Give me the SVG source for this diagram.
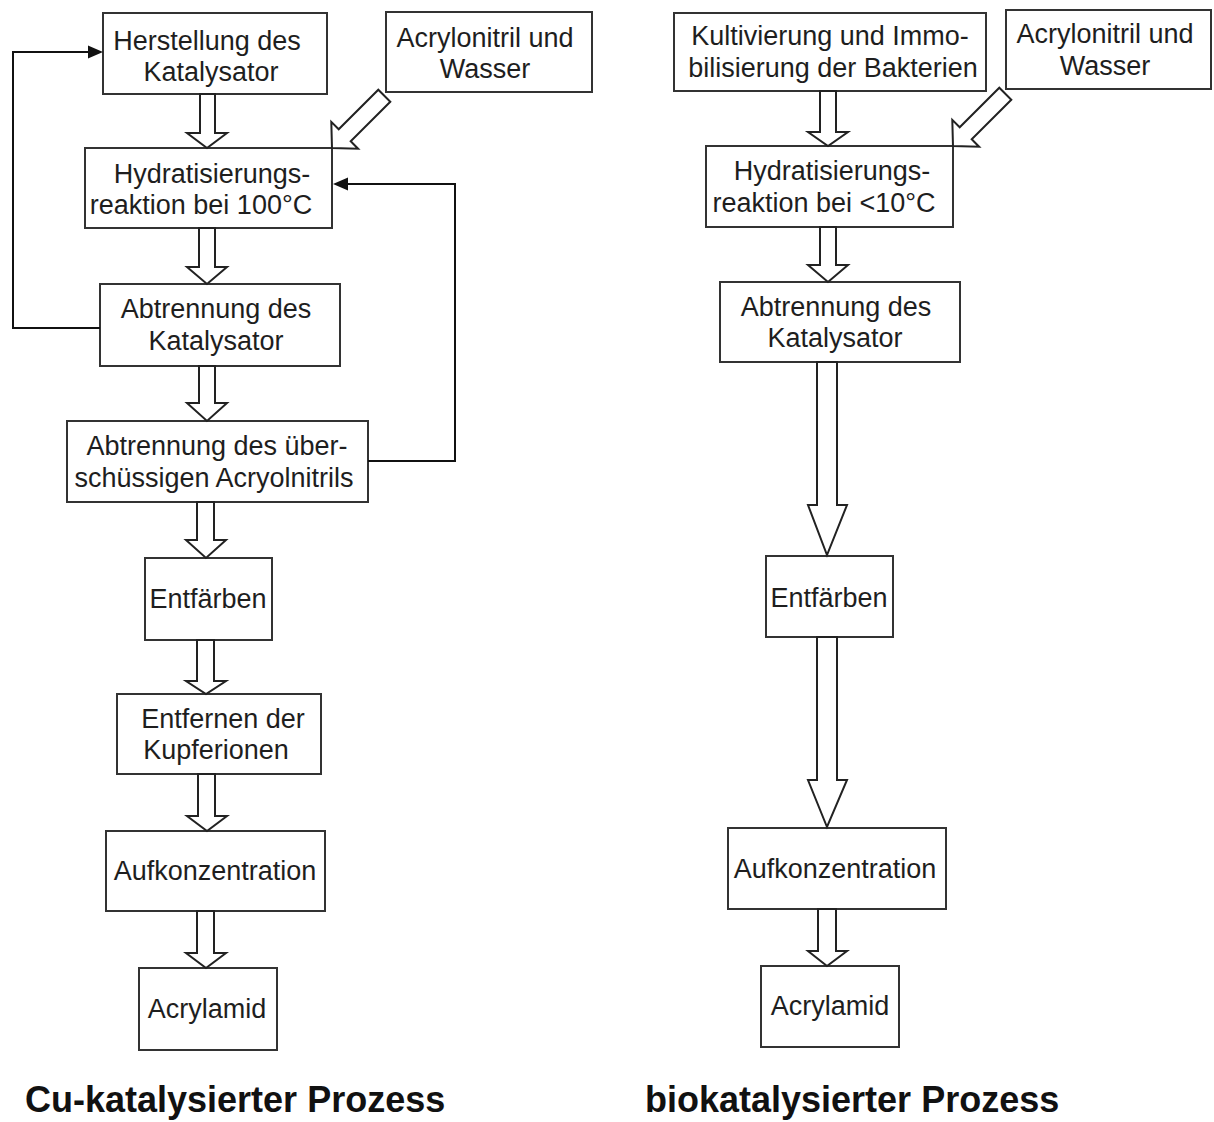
<svg xmlns="http://www.w3.org/2000/svg" width="1214" height="1122" viewBox="0 0 1214 1122">
<style>
.box{fill:#fff;stroke:#333;stroke-width:2}
.t{font-family:"Liberation Sans",Arial,sans-serif;font-size:27px;fill:#1e1e1e;text-anchor:middle}
.title{font-family:"Liberation Sans",Arial,sans-serif;font-size:36px;font-weight:bold;fill:#111}
.ha{fill:#fff;stroke:#222;stroke-width:2;stroke-linejoin:miter}
.fb{fill:none;stroke:#111;stroke-width:2}
.ah{fill:#111}
</style>
<rect width="1214" height="1122" fill="#fff"/>
<g id="n1"><rect class="box" x="103" y="13" width="224" height="81"/><text class="t" x="207" y="50">Herstellung des</text><text class="t" x="211" y="81">Katalysator</text></g>
<g id="n2"><rect class="box" x="386" y="12" width="206" height="80"/><text class="t" x="485" y="47">Acrylonitril und</text><text class="t" x="485" y="78">Wasser</text></g>
<g id="n3"><rect class="box" x="85" y="148" width="247" height="80"/><text class="t" x="212" y="183">Hydratisierungs-</text><text class="t" x="201" y="214">reaktion bei 100°C</text></g>
<g id="n4"><rect class="box" x="100" y="284" width="240" height="82"/><text class="t" x="216" y="318">Abtrennung des</text><text class="t" x="216" y="350">Katalysator</text></g>
<g id="n5"><rect class="box" x="67" y="421" width="301" height="81"/><text class="t" x="217" y="455">Abtrennung des über-</text><text class="t" x="214" y="487">schüssigen Acryolnitrils</text></g>
<g id="n6"><rect class="box" x="145" y="558" width="127" height="82"/><text class="t" x="208" y="608">Entfärben</text></g>
<g id="n7"><rect class="box" x="117" y="694" width="204" height="80"/><text class="t" x="223" y="728">Entfernen der</text><text class="t" x="216" y="759">Kupferionen</text></g>
<g id="n8"><rect class="box" x="106" y="831" width="219" height="80"/><text class="t" x="215" y="880">Aufkonzentration</text></g>
<g id="n9"><rect class="box" x="139" y="968" width="138" height="82"/><text class="t" x="207" y="1018">Acrylamid</text></g>
<g id="m1"><rect class="box" x="674" y="13" width="312" height="78"/><text class="t" x="830" y="45">Kultivierung und Immo-</text><text class="t" x="833" y="77">bilisierung der Bakterien</text></g>
<g id="m2"><rect class="box" x="1006" y="10" width="205" height="79"/><text class="t" x="1105" y="43">Acrylonitril und</text><text class="t" x="1105" y="75">Wasser</text></g>
<g id="m3"><rect class="box" x="706" y="146" width="247" height="81"/><text class="t" x="832" y="180">Hydratisierungs-</text><text class="t" x="824" y="212">reaktion bei &lt;10°C</text></g>
<g id="m4"><rect class="box" x="720" y="282" width="240" height="80"/><text class="t" x="836" y="316">Abtrennung des</text><text class="t" x="835" y="347">Katalysator</text></g>
<g id="m5"><rect class="box" x="766" y="556" width="127" height="81"/><text class="t" x="829" y="607">Entfärben</text></g>
<g id="m6"><rect class="box" x="728" y="828" width="218" height="81"/><text class="t" x="835" y="878">Aufkonzentration</text></g>
<g id="m7"><rect class="box" x="761" y="966" width="138" height="81"/><text class="t" x="830" y="1015">Acrylamid</text></g>
<g id="connectors">
<path class="ha" d="M200,94 V133 H187 L207,148 L227,133 H215 V94 Z"/>
<path class="ha" d="M199,228 V267 H187 L207,284 L227,267 H215 V228 Z"/>
<path class="ha" d="M199,366 V403 H187 L207,421 L227,403 H215 V366 Z"/>
<path class="ha" d="M197,502 V540 H186 L206,558 L226,540 H214 V502 Z"/>
<path class="ha" d="M197,640 V681 H186 L206,694 L226,681 H214 V640 Z"/>
<path class="ha" d="M198,774 V816 H187 L207,831 L227,816 H215 V774 Z"/>
<path class="ha" d="M197,911 V953 H186 L206,968 L226,953 H214 V911 Z"/>
<path class="ha" d="M390.3,101.7 L350.7,141.3 L358.1,148.7 L332,148 L331.3,121.9 L338.7,129.3 L378.3,89.7 Z"/>
<path class="ha" d="M820,91 V132 H808 L828,146 L848,132 H836 V91 Z"/>
<path class="ha" d="M820,227 V265 H808 L828,282 L848,265 H836 V227 Z"/>
<path class="ha" d="M817,362 V505 H808 L827,555 L847,505 H837 V362 Z"/>
<path class="ha" d="M817,637 V780 H808 L827,827 L847,780 H837 V637 Z"/>
<path class="ha" d="M818,909 V951 H808 L827,966 L847,951 H836 V909 Z"/>
<path class="ha" d="M1011.3,99.7 L971.7,139.3 L979.1,146.7 L953,146 L952.3,119.9 L959.7,127.3 L999.3,87.7 Z"/>
<polyline class="fb" points="100,328 13,328 13,52 89,52"/>
<polygon class="ah" points="103,52 88,45.5 88,58.5"/>
<polyline class="fb" points="368,461 455,461 455,184 346,184"/>
<polygon class="ah" points="333,184 348,177.5 348,190.5"/>
</g>
<text class="title" x="25" y="1112">Cu-katalysierter Prozess</text>
<text class="title" x="645" y="1112">biokatalysierter Prozess</text>
</svg>
